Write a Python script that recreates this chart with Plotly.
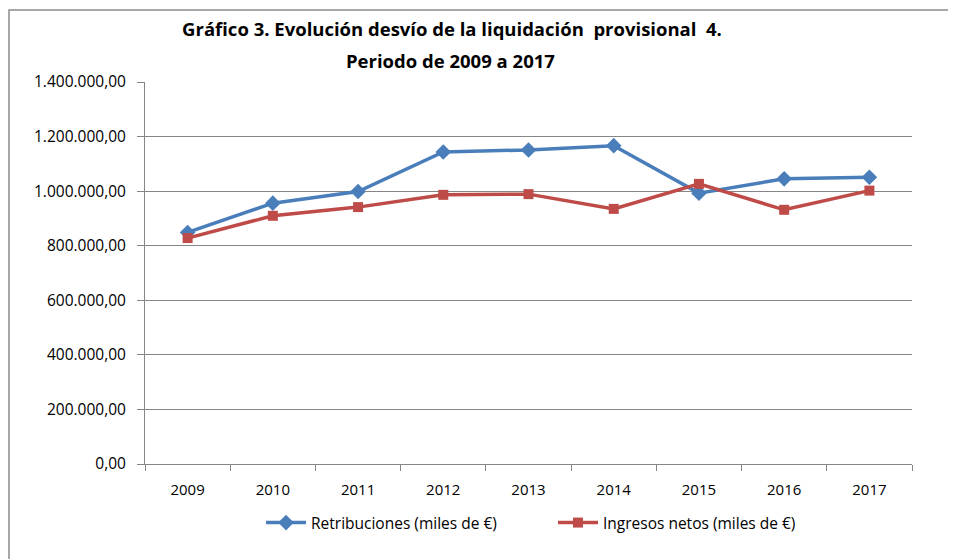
import plotly.graph_objects as go

years = ["2009", "2010", "2011", "2012", "2013", "2014", "2015", "2016", "2017"]
retribuciones = [848600, 956000, 998500, 1143700, 1151000, 1166700, 992700, 1045000, 1051000]
ingresos_netos = [828000, 909700, 941500, 986500, 989000, 935000, 1026700, 931600, 1002000]

y_ticks = [0, 200000, 400000, 600000, 800000, 1000000, 1200000, 1400000]

# the page body adds an 8px margin, so the figure is 8px smaller than the window
W, H = 948, 551
L, R, T, B = 137, 44, 74, 95
pw = W - L - R
ph = H - T - B

fig = go.Figure()

fig.add_trace(go.Scatter(
    x=years, y=retribuciones,
    name="Retribuciones (miles de €)",
    mode="lines+markers",
    line={"color": "#4A7EBB", "width": 3.5},
    marker={"symbol": "diamond", "size": 12, "color": "#4A7EBB"},
))
fig.add_trace(go.Scatter(
    x=years, y=ingresos_netos,
    name="Ingresos netos (miles de €)",
    mode="lines+markers",
    line={"color": "#BE4B48", "width": 3.5},
    marker={"symbol": "square", "size": 10, "color": "#BE4B48"},
))

# outer chart frame (only left and top edges fall inside the picture)
fig.add_shape(type="rect", xref="paper", yref="paper",
              x0=(1 - L) / pw, x1=(W + 20 - L) / pw,
              y0=-(H + 20 - T - ph) / ph, y1=1 + (T - 2) / ph,
              line={"color": "#8C8C8C", "width": 1.5})

# second title line
fig.add_annotation(text="<b>Periodo de 2009 a 2017</b>",
                   xref="paper", yref="paper",
                   x=(442 - L) / pw, y=1 + (T - 52) / ph,
                   xanchor="center", yanchor="middle", showarrow=False,
                   font={"size": 18.5, "family": "Open Sans"})

fig.update_layout(
    width=W, height=H,
    margin={"l": L, "r": R, "t": T, "b": B},
    paper_bgcolor="white",
    plot_bgcolor="white",
    separators=",.",
    font={"family": "Open Sans", "size": 15, "color": "black"},
    title={
        "text": "<b>Gráfico 3. Evolución desvío de la liquidación  provisional  4.</b>",
        "x": 444 / W, "xanchor": "center",
        "y": 1 - 22 / H, "yanchor": "middle",
        "font": {"size": 18.5, "family": "Open Sans"},
    },
    xaxis={
        "type": "category",
        "tickson": "boundaries",
        "ticks": "outside",
        "ticklen": 6,
        "tickcolor": "#868686",
        "showline": True,
        "linecolor": "#868686",
        "showgrid": False,
        "range": [-0.5, 8.5],
        "tickfont": {"size": 15},
        "ticklabelstandoff": 12,
    },
    yaxis={
        "range": [0, 1400000],
        "tickvals": y_ticks,
        "tickformat": ",.2f",
        "ticks": "outside",
        "ticklen": 7,
        "tickcolor": "#868686",
        "showline": True,
        "linecolor": "#868686",
        "showgrid": True,
        "gridcolor": "#868686",
        "gridwidth": 1,
        "zeroline": False,
        "tickfont": {"size": 15.5},
        "ticklabelstandoff": 8,
    },
    legend={
        "orientation": "h",
        "x": (545 - L) / pw, "xanchor": "center",
        "y": -(515 - H + B) / ph, "yanchor": "middle",
        "font": {"size": 15.5},
        "itemwidth": 40,
        "entrywidth": 237,
        "entrywidthmode": "pixels",
    },
)

fig.write_html("out.html")
